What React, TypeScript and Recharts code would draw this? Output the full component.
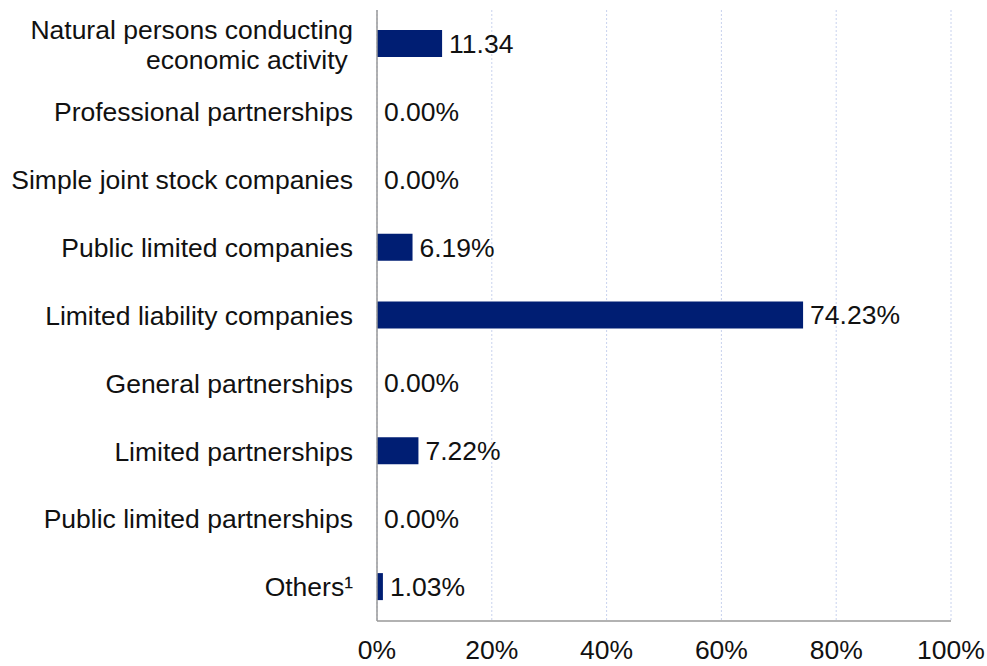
import { Bar, BarChart, CartesianGrid, LabelList, XAxis, YAxis } from 'recharts';

const categories = [
  'Natural persons conducting|economic activity',
  'Professional partnerships',
  'Simple joint stock companies',
  'Public limited companies',
  'Limited liability companies',
  'General partnerships',
  'Limited partnerships',
  'Public limited partnerships',
  'Others¹',
];
const shares = [11.34, 0, 0, 6.19, 74.23, 0, 7.22, 0, 1.03];
const valueLabels = ['11.34', '0.00%', '0.00%', '6.19%', '74.23%', '0.00%', '7.22%', '0.00%', '1.03%'];
const xTicks = [0, 20, 40, 60, 80, 100];

const data = categories.map((name, i) => ({ name, share: shares[i], label: valueLabels[i] }));

const font = 'Liberation Sans, Arial, sans-serif';
const fs = 26.5;

function CategoryTick({ x, y, payload }: any) {
  const lines = String(payload.value).split('|');
  if (lines.length === 1) {
    return (
      <text x={x - 16} y={y} dy="0.35em" textAnchor="end" fontSize={fs} fill="#111" fontFamily={font}>
        {lines[0]}
      </text>
    );
  }
  return (
    <g>
      <text x={x - 16} y={y - 14} dy="0.35em" textAnchor="end" fontSize={fs} fill="#111" fontFamily={font}>
        {lines[0]}
      </text>
      <text x={x - 122} y={y + 16} dy="0.35em" textAnchor="middle" fontSize={fs} fill="#111" fontFamily={font}>
        {lines[1]}
      </text>
    </g>
  );
}

export default function App() {
  return (
    <div style={{ width: 987, height: 666, background: '#fff' }}>
      <style>{'body { margin: 0; overflow: hidden; }'}</style>
      <BarChart
        width={987}
        height={666}
        data={data}
        layout="vertical"
        margin={{ top: 10, right: 36, left: 0, bottom: 0 }}
        barCategoryGap={0}
      >
        <CartesianGrid horizontal={false} stroke="#c8d2ee" strokeDasharray="2 2" />
        <XAxis
          type="number"
          domain={[0, 100]}
          ticks={xTicks}
          tickFormatter={(v) => `${v}%`}
          tick={{ fontSize: fs, fill: '#111', fontFamily: font }}
          tickLine={false}
          tickMargin={13}
          axisLine={{ stroke: '#999', strokeWidth: 1.5 }}
          height={45}
          interval={0}
        />
        <YAxis
          type="category"
          dataKey="name"
          width={377}
          tick={<CategoryTick />}
          tickLine={false}
          axisLine={{ stroke: '#999', strokeWidth: 1.5 }}
          interval={0}
        />
        <Bar
          dataKey="share"
          fill="#001e73"
          barSize={27}
          minPointSize={(value: number) => (value === 0 ? 0.01 : 0)}
          isAnimationActive={false}
        >
          <LabelList
            dataKey="label"
            position="right"
            offset={7}
            style={{ fontSize: fs, fill: '#111', fontFamily: font }}
          />
        </Bar>
      </BarChart>
    </div>
  );
}
